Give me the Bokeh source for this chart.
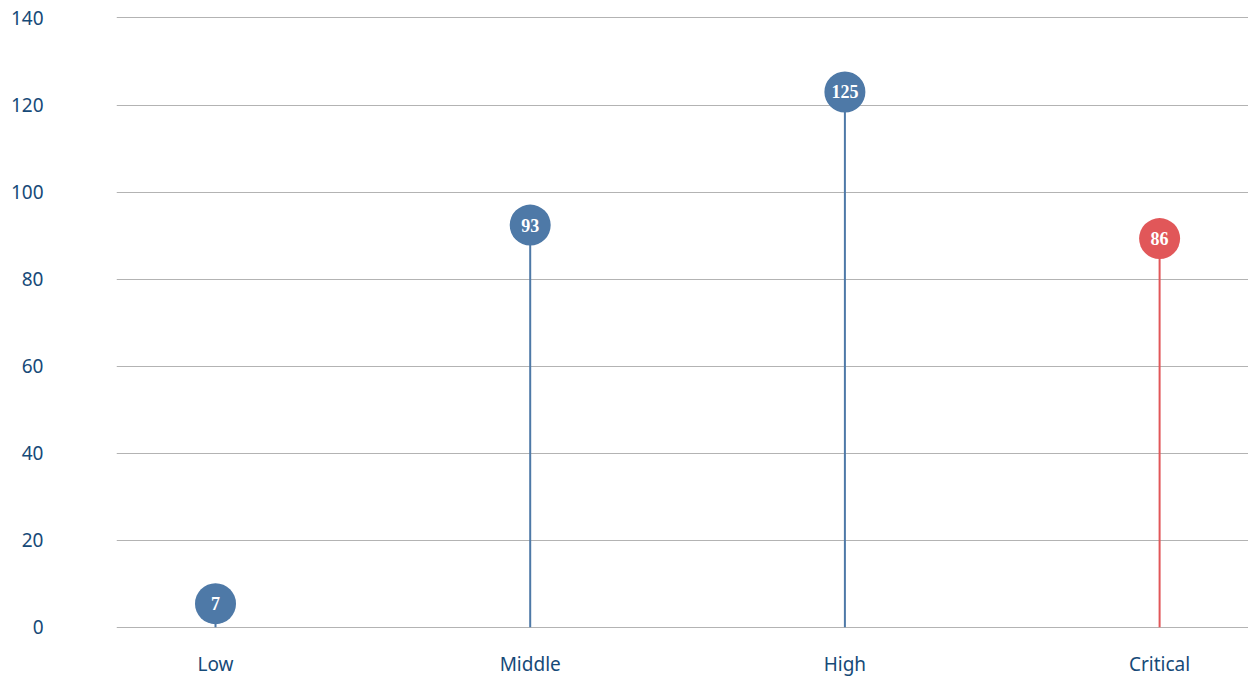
from bokeh.plotting import figure
from bokeh.models import ColumnDataSource, Range1d, FixedTicker
from bokeh.core.properties import value
from bokeh.embed import file_html
from bokeh.resources import INLINE

# ---- data ----
categories = ["Low", "Middle", "High", "Critical"]
counts = [7, 93, 125, 86]                 # label shown in each bubble
bubble_level = [5.4, 92.4, 123.0, 89.3]   # vertical position of each bubble as drawn
y_ticks = [0, 20, 40, 60, 80, 100, 120, 140]

BLUE = "#4e79a7"
RED = "#e15759"
TEXT = "#164a78"

xs = list(range(len(categories)))
colors = [RED if c == "Critical" else BLUE for c in categories]
src = ColumnDataSource(dict(
    x=xs, y=bubble_level, y0=[0] * len(xs), cat=categories,
    label=[str(v) for v in counts], color=colors,
))

p = figure(width=1248, height=679, output_backend="svg", toolbar_location=None,
           x_range=Range1d(-0.3146, 3.2825), y_range=Range1d(-0.77, 144.02),
           min_border_left=116, min_border_right=0, min_border_top=0,
           min_border_bottom=49)
p.outline_line_color = None
p.background_fill_color = "white"
p.border_fill_color = "white"

# stems
p.segment(x0="x", y0="y0", x1="x", y1="y", source=src, line_color="color", line_width=2)
# bubbles
p.scatter(x="x", y="y", source=src, size=41, fill_color="color", line_color="color", line_width=0)
p.text(x="x", y="y", text="label", source=src, text_color="white",
       text_font=value("Liberation Serif"), text_font_style="bold",
       text_font_size="18px", text_align="center", text_baseline="middle")

# axes
p.yaxis.ticker = FixedTicker(ticks=y_ticks)
p.yaxis.axis_line_color = None
p.yaxis.major_tick_line_color = None
p.yaxis.minor_tick_line_color = None
p.yaxis.major_label_standoff = 67
p.yaxis.major_label_text_align = "left"
p.yaxis.major_label_text_font = "Noto Sans"
p.yaxis.major_label_text_font_size = "19px"
p.yaxis.major_label_text_color = TEXT

p.xaxis.ticker = FixedTicker(ticks=xs)
p.xaxis.major_label_overrides = {i: c for i, c in zip(xs, categories)}
p.xaxis.axis_line_color = None
p.xaxis.major_tick_line_color = None
p.xaxis.minor_tick_line_color = None
p.xaxis.major_label_standoff = 14
p.xaxis.major_label_text_line_height = 1.6
p.xaxis.major_label_text_font = "Noto Sans"
p.xaxis.major_label_text_font_size = "19px"
p.xaxis.major_label_text_color = TEXT

p.xgrid.grid_line_color = None
p.ygrid.ticker = FixedTicker(ticks=y_ticks)
p.ygrid.grid_line_color = "#b3b3b3"
p.ygrid.grid_line_width = 1

open("out.html", "w").write(file_html(p, INLINE))
